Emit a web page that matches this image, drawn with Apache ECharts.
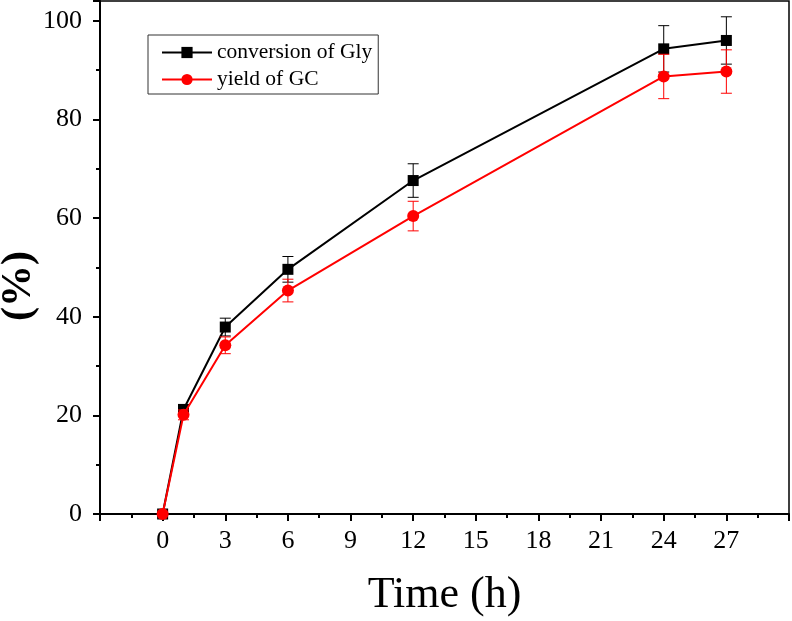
<!DOCTYPE html>
<html>
<head>
<meta charset="utf-8">
<script src="https://cdn.jsdelivr.net/npm/echarts@6/dist/echarts.min.js"></script>
<style>
html,body{margin:0;padding:0;background:#fff;}
#chart{width:792px;height:621px;}
</style>
</head>
<body>
<div id="chart"></div>
<script>
var times = [0, 1, 3, 6, 12, 24, 27];
var glyConversion = [0, 21.2, 37.9, 49.6, 67.6, 94.3, 96.0];
var glyError = [0, 0.8, 1.8, 2.6, 3.4, 4.7, 4.8];
var gcYield = [0, 20.1, 34.2, 45.3, 60.4, 88.7, 89.7];
var gcError = [0, 1.0, 1.7, 2.3, 3.0, 4.5, 4.4];
var seriesNames = ['conversion of Gly', 'yield of GC'];
var xTitle = 'Time (h)';
var yTitle = '(%)';

var FONT = 'Liberation Serif';

function pairs(xs, ys) { return xs.map(function (x, i) { return [x, ys[i]]; }); }
function errs(xs, ys, es) { return xs.map(function (x, i) { return [x, ys[i] - es[i], ys[i] + es[i]]; }); }

function errorSeries(data, color, z) {
  return {
    type: 'custom',
    data: data,
    z: z,
    silent: true,
    renderItem: function (params, api) {
      var x = api.value(0);
      var lo = api.coord([x, api.value(1)]);
      var hi = api.coord([x, api.value(2)]);
      var hw = 5.5;
      var st = { stroke: color, lineWidth: 1 };
      return {
        type: 'group',
        children: [
          { type: 'line', shape: { x1: lo[0], y1: lo[1], x2: hi[0], y2: hi[1] }, style: st },
          { type: 'line', shape: { x1: lo[0] - hw, y1: lo[1], x2: lo[0] + hw, y2: lo[1] }, style: st },
          { type: 'line', shape: { x1: hi[0] - hw, y1: hi[1], x2: hi[0] + hw, y2: hi[1] }, style: st }
        ]
      };
    }
  };
}

var chart = echarts.init(document.getElementById('chart'), null, { renderer: 'canvas' });
chart.setOption({
  animation: false,
  backgroundColor: '#fff',
  grid: {
    left: 100, right: 3, top: 1, bottom: 107,
    outerBoundsMode: 'none', containLabel: false,
    show: true, borderColor: '#000', borderWidth: 1.5
  },
  legend: {
    orient: 'vertical',
    left: 148,
    top: 35,
    data: seriesNames,
    itemWidth: 50,
    itemHeight: 14,
    itemGap: 4,
    padding: [6, 6, 3, 13],
    borderColor: '#333',
    borderWidth: 1,
    textStyle: { fontFamily: FONT, fontSize: 21.5, color: '#000', lineHeight: 23 }
  },
  xAxis: {
    type: 'value',
    min: -3, max: 30, interval: 3,
    splitLine: { show: false },
    axisLine: { onZero: false, lineStyle: { color: '#000', width: 2 } },
    axisTick: { inside: false, length: 7, lineStyle: { color: '#000', width: 2 } },
    minorTick: { show: true, splitNumber: 2, length: 4, lineStyle: { color: '#000', width: 2 } },
    axisLabel: {
      margin: 14,
      fontFamily: FONT, fontSize: 26, color: '#000',
      formatter: function (v) { return (v < 0 || v > 27) ? '' : String(v); }
    },
    name: xTitle,
    nameLocation: 'middle',
    nameGap: 59,
    nameTextStyle: { fontFamily: FONT, fontSize: 44, color: '#000' }
  },
  yAxis: {
    type: 'value',
    min: 0, max: 104, interval: 20,
    splitLine: { show: false },
    axisLine: { onZero: false, lineStyle: { color: '#000', width: 2 } },
    axisTick: { inside: false, length: 7, lineStyle: { color: '#000', width: 2 } },
    minorTick: { show: true, splitNumber: 2, length: 4, lineStyle: { color: '#000', width: 2 } },
    axisLabel: {
      margin: 18,
      fontFamily: FONT, fontSize: 26, color: '#000',
      formatter: function (v) { return v % 20 === 0 ? String(v) : ''; }
    }
  },
  graphic: [{
    type: 'text',
    x: 19, y: 286,
    rotation: Math.PI / 2,
    style: { text: yTitle, font: 'bold 42px "Liberation Serif"', fill: '#000', align: 'center', verticalAlign: 'middle' }
  }],
  series: [
    {
      name: seriesNames[0], type: 'line', data: pairs(times, glyConversion),
      symbol: 'rect', symbolSize: 11, color: '#000',
      lineStyle: { color: '#000', width: 2 }, itemStyle: { color: '#000' }, z: 2
    },
    errorSeries(errs(times, glyConversion, glyError), '#000', 3),
    {
      name: seriesNames[1], type: 'line', data: pairs(times, gcYield),
      symbol: 'circle', symbolSize: 12, color: '#ff0000',
      lineStyle: { color: '#ff0000', width: 2 }, itemStyle: { color: '#ff0000' }, z: 4
    },
    errorSeries(errs(times, gcYield, gcError), '#ff0000', 5)
  ]
});
</script>
</body>
</html>
